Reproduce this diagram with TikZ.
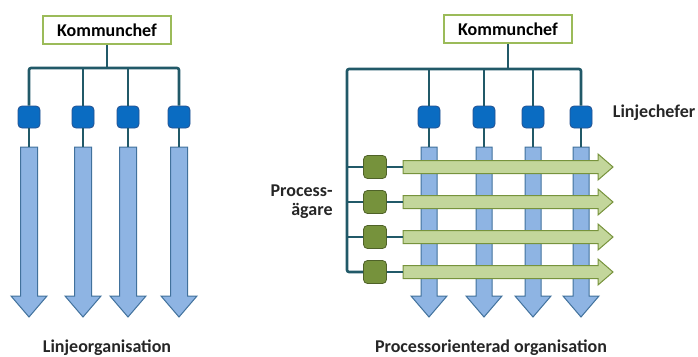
\documentclass[tikz,border=0pt]{standalone}
\usepackage{fontspec}
\setmainfont{Carlito}
\usetikzlibrary{positioning}

\definecolor{linkteal}{HTML}{215968}
\definecolor{bossgreen}{HTML}{9BBB59}
\definecolor{chefblue}{HTML}{0A6CC2}
\definecolor{chefedge}{HTML}{25508F}
\definecolor{flowblue}{HTML}{8EB4E3}
\definecolor{flowedge}{HTML}{41719C}
\definecolor{ownergreen}{HTML}{76923C}
\definecolor{owneredge}{HTML}{4F6228}
\definecolor{processgreen}{HTML}{C3D69B}
\definecolor{processedge}{HTML}{77933C}

\begin{document}
\begin{tikzpicture}[x=1pt,y=-1pt,node distance=8pt]
        \tikzstyle{boss}
	  =[draw=bossgreen, line width=1.6pt, fill=white, rectangle,
	  minimum width=128pt, minimum height=28pt,
	  font=\bfseries\fontsize{18}{19}\selectfont]
        \tikzstyle{chef}
	  =[draw=chefedge, fill=chefblue, line width=0.8pt, rectangle,
	  rounded corners=4pt, minimum size=22pt, inner sep=0pt]
        \tikzstyle{owner}
	  =[draw=owneredge, fill=ownergreen, line width=0.8pt, rectangle,
	  rounded corners=4pt, minimum size=23pt, inner sep=0pt]
        \tikzstyle{link}=[draw=linkteal, line width=2.6pt, rounded corners=2pt]
        \tikzstyle{flow}=[draw=flowedge, fill=flowblue, line width=1pt]
        \tikzstyle{process}=[draw=processedge, fill=processgreen, line width=1pt]
        \tikzstyle{label}=[font=\bfseries\fontsize{18}{19}\selectfont, text=black!85]

	\useasboundingbox (0,0) rectangle (698,356);

	% Linjeorganisation
	\node[boss] (bossL) at (107,30) {Kommunchef};
	\coordinate (barL) at (107,68);
	\foreach \x [count=\i] in {29,83,128,179} {
	  \draw[flow] (\x-8.5,147) -- (\x+8.5,147) -- (\x+8.5,296)
	    -- (\x+18,296) -- (\x,317) -- (\x-18,296) -- (\x-8.5,296) -- cycle;
	  \coordinate (topL\i) at (\x,147);
	  \node[chef] (chefL\i) at (\x,117) {};
	  \draw[link] (chefL\i) -- (topL\i);
	}
	\draw[link] (bossL) -- (barL);
	\draw[link] (chefL1) |- (barL) -| (chefL4);
	\draw[link] (chefL2) -- (chefL2 |- barL);
	\draw[link] (chefL3) -- (chefL3 |- barL);
	\node[label] (nameL) at (107,348) {Linjeorganisation};

	% Processorienterad organisation
	\node[boss] (bossR) at (508,29) {Kommunchef};
	\coordinate (barR) at (508,69);
	\coordinate (cornerR) at (347,69);
	\foreach \x [count=\i] in {429,484,533,581} {
	  \draw[flow] (\x-8,147) -- (\x+8,147) -- (\x+8,296)
	    -- (\x+18,296) -- (\x,317) -- (\x-18,296) -- (\x-8,296) -- cycle;
	  \coordinate (topR\i) at (\x,147);
	  \node[chef] (chefR\i) at (\x,117) {};
	  \draw[link] (chefR\i) -- (topR\i);
	}
	\foreach \y [count=\i] in {167,202,237,272} {
	  \draw[process] (403,\y-6.5) -- (598,\y-6.5) -- (598,\y-13)
	    -- (613,\y) -- (598,\y+13) -- (598,\y+6.5) -- (403,\y+6.5) -- cycle;
	  \coordinate (startR\i) at (403,\y);
	  \node[owner] (owner\i) at (375,\y) {};
	  \draw[link] (owner\i) -- (startR\i);
	}
	\draw[link] (bossR) -- (barR);
	\draw[link] (owner4) -| (cornerR) -| (chefR4);
	\foreach \i in {1,2,3} {
	  \draw[link] (chefR\i) -- (chefR\i |- barR);
	  \draw[link] (owner\i) -- (owner\i -| cornerR);
	}
	\node[label, right=17pt of chefR4, yshift=4pt] (chefs) {Linjechefer};
	\node[label, align=right, left=27pt of owner2] (owners) {Process-\\ägare};
	\node[label] (nameR) at (491,348) {Processorienterad organisation};
    \end{tikzpicture}
\end{document}
